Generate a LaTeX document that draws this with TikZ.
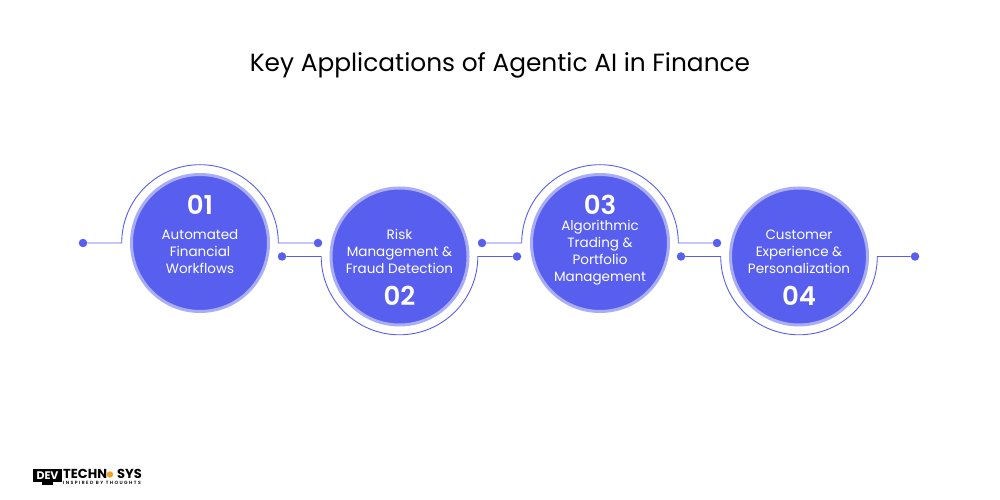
\documentclass[tikz,border=0pt]{standalone}
\usepackage{fontspec}
\setmainfont{Poppins}
\newfontfamily\numfont{Poppins SemiBold}
\newfontfamily\mottofont[LetterSpace=31]{Poppins SemiBold}
\definecolor{discblue}{HTML}{585FEF}
\definecolor{discring}{HTML}{A9ADF6}
\definecolor{logoorange}{HTML}{F2A01E}
\begin{document}
\begin{tikzpicture}[x=1pt,y=1pt]
\tikzset{disc/.style={draw=discring,circle,fill=discblue,line width=3pt,minimum size=137pt,inner sep=0pt},
dot/.style={circle,fill=discblue,inner sep=0pt,minimum size=8.5pt},
wire/.style={draw=discblue,line width=0.9pt},
numtext/.style={text=white,inner sep=0pt,font=\numfont\fontsize{26}{26}\selectfont},
labeltext/.style={text=white,align=center,inner sep=0pt,font=\fontsize{13.5}{16.8}\selectfont},
logotext/.style={font=\bfseries\fontsize{13}{13}\selectfont,inner sep=0pt,anchor=west}}
\useasboundingbox (0,0) rectangle (1000,500);
\node[font=\fontsize{24.85}{30}\selectfont] (title) at (500,434.5) {Key Applications of Agentic AI in Finance};
% discs
\node [disc] (A) at (200,257) {};
\node [disc] (B) at (399.5,243.5) {};
\node [disc] (C) at (600,257) {};
\node [disc] (D) at (799,243.5) {};
% end dots
\node [dot] (a1) at (83,257) {};
\node [dot] (a2) at (318,257) {};
\node [dot] (b1) at (282,243.5) {};
\node [dot] (b2) at (517,243.5) {};
\node [dot] (c1) at (482,257) {};
\node [dot] (c2) at (717,257) {};
\node [dot] (d1) at (681,243.5) {};
\node [dot] (d2) at (915,243.5) {};
% wires
\foreach \n/\s/\x in {a1/a2/200,c1/c2/600}
\draw[wire] (\n) -- (\x-78.3,257) arc[start angle=180,end angle=0,radius=78.3] -- (\s);
\foreach \n/\s/\x in {b1/b2/399.5,d1/d2/799}
\draw[wire] (\n) -- (\x-78.3,243.5) arc[start angle=180,end angle=360,radius=78.3] -- (\s);
% texts
\node [numtext] (n1) at (200,295) {01};
\node [numtext] (n2) at (399.5,204) {02};
\node [numtext] (n3) at (600,295.5) {03};
\node [numtext] (n4) at (799,204) {04};
\node [labeltext] (t1) at (200,248.5) {Automated\\Financial\\Workflows};
\node [labeltext] (t2) at (399.5,248.5) {Risk\\Management \&\\Fraud Detection};
\node [labeltext] (t3) at (600,247.5) {Algorithmic\\Trading \&\\Portfolio\\Management};
\node [labeltext] (t4) at (799,248.5) {Customer\\Experience \&\\Personalization};
% logo
\fill[black] (33,18) rectangle (62,31);
\fill[black] (42,15) rectangle (53,18);
\node[text=white,font=\bfseries\fontsize{11}{11}\selectfont,inner sep=0pt] (dev) at (47.5,24.5) {DEV};
\node[logotext] (tech) at (63,26) {TECHN};
\fill[logoorange] (110,25.5) circle (3.2pt);
\node[logotext] (sys) at (117,26) {SYS};
\node[font=\mottofont\fontsize{4.6}{5}\selectfont,inner sep=0pt,anchor=west] (motto) at (63,17) {INSPIRED BY THOUGHTS};
\end{tikzpicture}
\end{document}
